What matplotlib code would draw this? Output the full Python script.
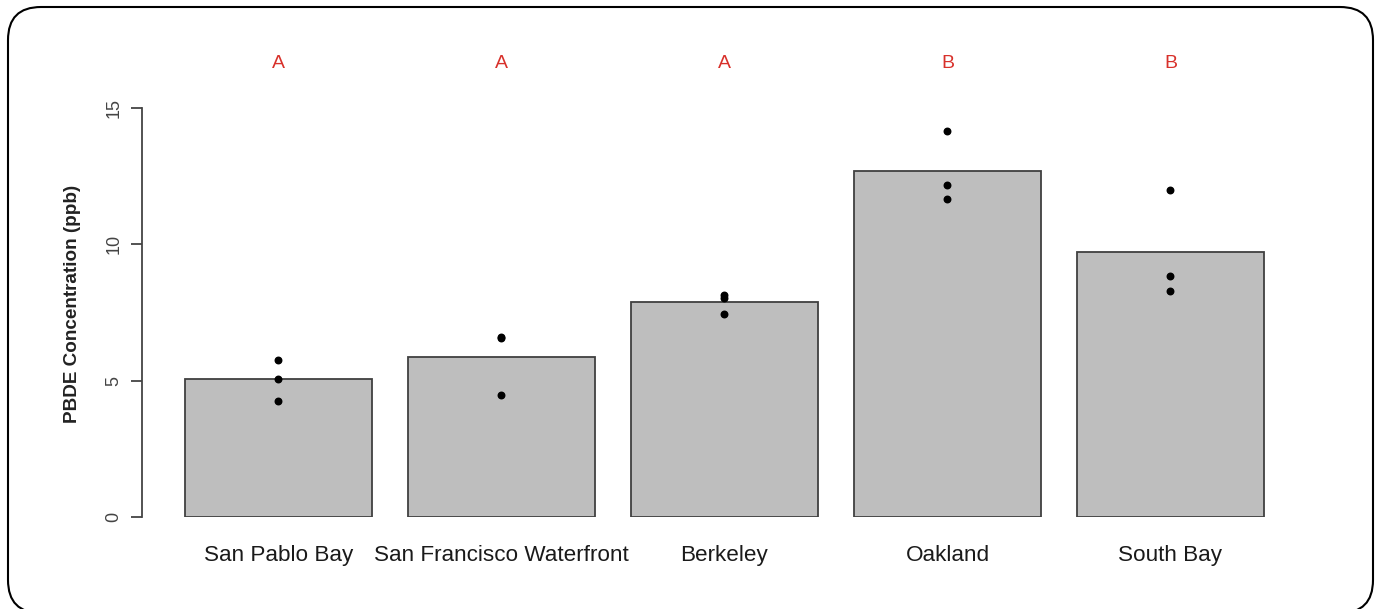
import matplotlib.pyplot as plt
from matplotlib.patches import FancyBboxPatch
import numpy as np

sites = ["San Pablo Bay", "San Francisco Waterfront", "Berkeley", "Oakland", "South Bay"]
means = [5.05, 5.88, 7.88, 12.68, 9.73]
samples = [[5.74, 5.07, 4.24],
           [6.61, 6.57, 4.46],
           [8.14, 8.03, 7.44],
           [14.17, 12.17, 11.65],
           [12.0, 8.83, 8.29]]
groups = ["A", "A", "A", "B", "B"]

plt.rcParams['font.family'] = ['Liberation Sans', 'DejaVu Sans']

fig = plt.figure(figsize=(13.8, 6.09), dpi=100)
ax = fig.add_axes([142/1380, 1 - 517/609, (1290-142)/1380, (517-108)/609])

x = np.arange(len(sites))
ax.bar(x, means, width=0.84, color='#bebebe', edgecolor='#404040', linewidth=1.3, zorder=1)
for i, pts in enumerate(samples):
    ax.scatter([i]*len(pts), pts, s=22, color='black', zorder=3)
    ax.text(i, 16.65, groups[i], color='#d8312b', fontsize=14, ha='center', va='center', clip_on=False)

ax.set_xlim(-0.612, 4.536)
ax.set_ylim(0, 15)
for s in ['top', 'right', 'bottom']:
    ax.spines[s].set_visible(False)
ax.spines['left'].set_bounds(0, 15)
ax.spines['left'].set_color('#444444')
ax.spines['left'].set_linewidth(1.3)
ax.set_yticks([0, 5, 10, 15])
ax.set_yticklabels(['0', '5', '10', '15'], rotation=90, va='center', color='#444444', fontsize=13)
ax.tick_params(axis='y', length=8, width=1.3, color='#444444', pad=6)
ax.set_xticks(x)
ax.set_xticklabels(sites, fontsize=16.2, color='#1a1a1a')
ax.tick_params(axis='x', length=0, pad=20)
ax.set_ylabel('PBDE Concentration (ppb)', fontsize=13.6, fontweight='bold', color='#222222', labelpad=18)
ax.yaxis.label.set_y(0.52)

border = FancyBboxPatch((0.08, -0.04), 13.65, 6.06, boxstyle="round,pad=0,rounding_size=0.33",
                        transform=fig.dpi_scale_trans, fill=False, edgecolor='black', linewidth=1.5)
fig.patches.append(border)

fig.savefig('out.png', dpi=100)
